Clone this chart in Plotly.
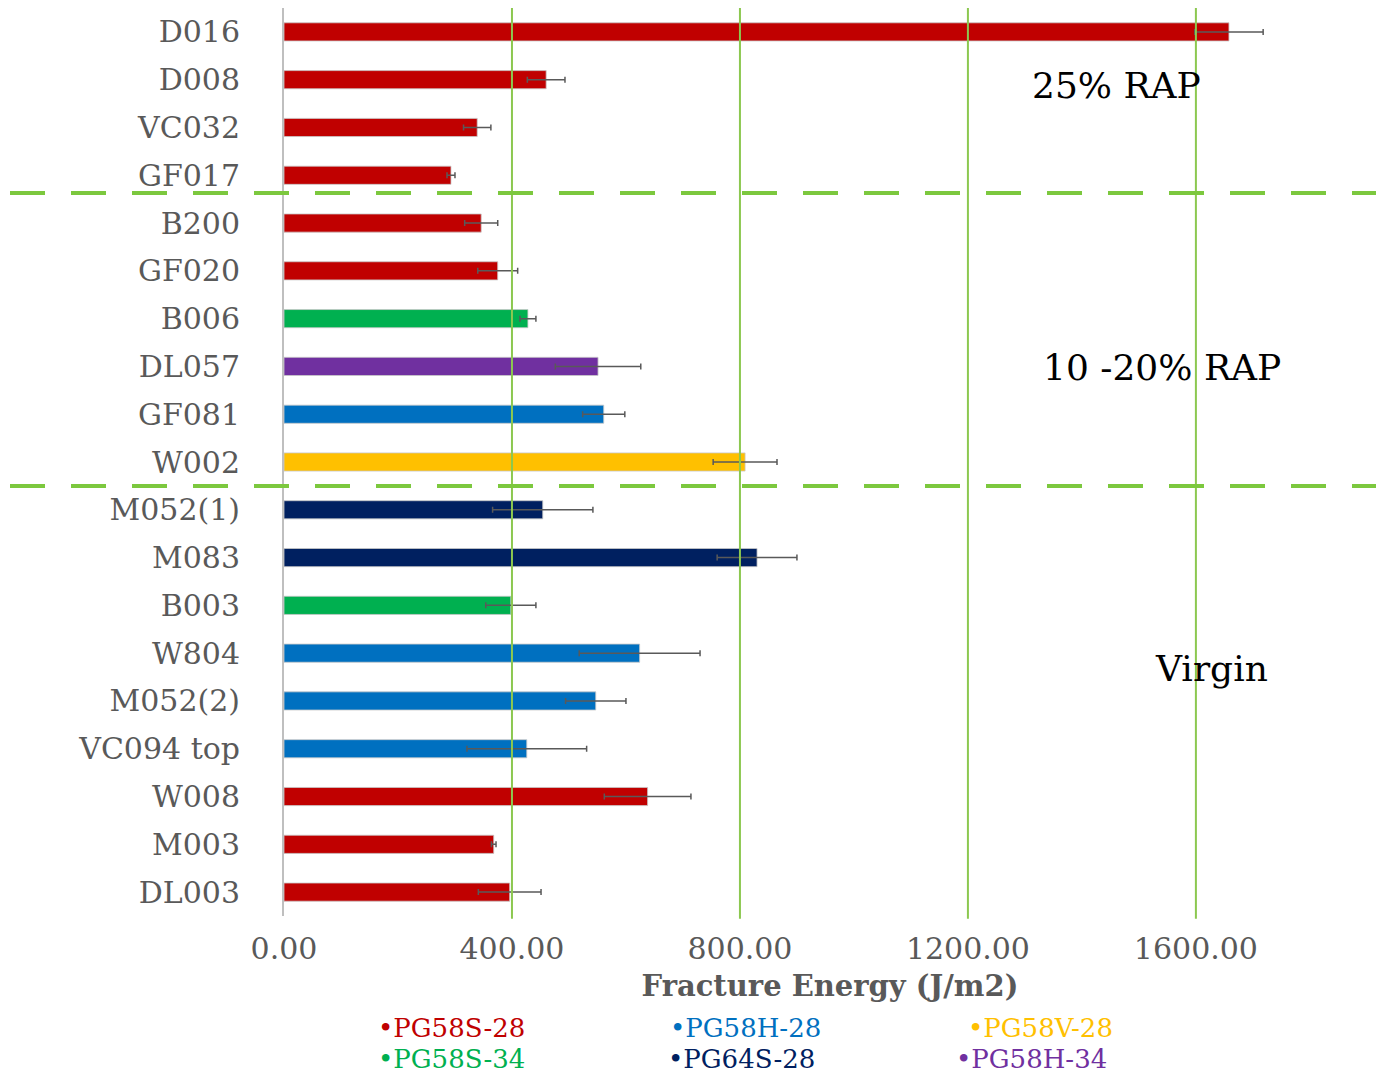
import plotly.graph_objects as go

# Fracture energy per mix, grouped top-to-bottom: 25% RAP, 10-20% RAP, Virgin
samples = ["D016", "D008", "VC032", "GF017",
           "B200", "GF020", "B006", "DL057", "GF081", "W002",
           "M052(1)", "M083", "B003", "W804", "M052(2)", "VC094 top",
           "W008", "M003", "DL003"]
energy = [1658, 460, 339, 293,
          346, 375, 428, 551, 561, 809,
          454, 830, 398, 624, 547, 426,
          638, 368, 396]
energy_err = [60, 33, 24, 7,
              29, 35, 14, 75, 37, 56,
              88, 70, 44, 106, 53, 105,
              76, 4, 55]
binder = ["PG58S-28", "PG58S-28", "PG58S-28", "PG58S-28",
          "PG58S-28", "PG58S-28", "PG58S-34", "PG58H-34", "PG58H-28", "PG58V-28",
          "PG64S-28", "PG64S-28", "PG58S-34", "PG58H-28", "PG58H-28", "PG58H-28",
          "PG58S-28", "PG58S-28", "PG58S-28"]

binder_order = ["PG58S-28", "PG58H-28", "PG58V-28",
                "PG58S-34", "PG64S-28", "PG58H-34"]
binder_colors = {
    "PG58S-28": "#C00000",
    "PG58H-28": "#0070C0",
    "PG58V-28": "#FFC000",
    "PG58S-34": "#00B050",
    "PG64S-28": "#002060",
    "PG58H-34": "#7030A0",
}

group_labels = ["25% RAP", "10 -20% RAP", "Virgin"]
# boundaries between groups, in category units
group_breaks = [3.37, 9.5]

x_ticks = [0, 400, 800, 1200, 1600]
x_max = 1916

W, H = 1376, 1076
L, R, T, B = 284, 0, 8, 160
PW, PH = W - L - R, H - T - B


def px_x(p):
    return (p - L) / PW


def px_y(p):
    return (H - B - p) / PH


SERIF = "DejaVu Serif"
GREY = "#595959"
GRID = "#8CC850"
DASH_GREEN = "#7CC83E"

fig = go.Figure()
fig.add_trace(go.Bar(
    y=samples,
    x=energy,
    orientation="h",
    width=0.38,
    marker=dict(color=[binder_colors[b] for b in binder],
                line=dict(color="rgba(200,200,200,0.8)", width=1)),
    error_x=dict(type="data", array=energy_err, symmetric=True,
                 color=GREY, thickness=1.5, width=3),
    showlegend=False,
    hoverinfo="x+y",
))

shapes = []
# vertical gridlines, drawn over the bars
for v in x_ticks[1:]:
    shapes.append(dict(type="line", xref="x", yref="paper",
                       x0=v, x1=v, y0=-0.003, y1=1,
                       line=dict(color=GRID, width=2), layer="above"))
# dashed separators between RAP groups
for yb in group_breaks:
    shapes.append(dict(type="line", xref="paper", yref="y",
                       x0=px_x(10), x1=1.0, y0=yb, y1=yb,
                       line=dict(color=DASH_GREEN, width=4, dash="35px,26px"),
                       layer="above"))

annotations = []
group_pos = [(1116, 85), (1162, 367), (1211, 668)]
for text, (gx, gy) in zip(group_labels, group_pos):
    annotations.append(dict(text=text, xref="paper", yref="paper",
                            x=px_x(gx), y=px_y(gy), showarrow=False,
                            xanchor="center", yanchor="middle",
                            font=dict(family=SERIF, size=36, color="black")))

# legend as coloured text, two rows of three
legend_pos = [(451, 1028), (745, 1028), (1040, 1028),
              (451, 1059), (741, 1059), (1031, 1059)]
for name, (lx, ly) in zip(binder_order, legend_pos):
    annotations.append(dict(text="\u2022" + name, xref="paper", yref="paper",
                            x=px_x(lx), y=px_y(ly), showarrow=False,
                            xanchor="center", yanchor="middle",
                            font=dict(family=SERIF, size=26,
                                      color=binder_colors[name])))

fig.update_layout(
    width=W, height=H,
    margin=dict(l=L, r=R, t=T, b=B, pad=0),
    paper_bgcolor="white",
    plot_bgcolor="white",
    bargap=0.62,
    shapes=shapes,
    annotations=annotations,
    xaxis=dict(
        range=[0, x_max],
        tickvals=x_ticks,
        ticktext=[f"{v:.2f}" for v in x_ticks],
        showgrid=False,
        zeroline=False,
        showline=False,
        ticks="",
        ticklabelstandoff=12,
        tickfont=dict(family=SERIF, size=30, color=GREY),
        title=dict(text="<b>Fracture Energy (J/m2)</b>", standoff=10,
                   font=dict(family=SERIF, size=29, color=GREY)),
        fixedrange=True,
    ),
    yaxis=dict(
        categoryorder="array",
        categoryarray=samples,
        autorange="reversed",
        showgrid=False,
        zeroline=False,
        showline=True,
        linecolor="#BFBFBF",
        linewidth=2,
        ticks="",
        ticklabelstandoff=36,
        tickfont=dict(family=SERIF, size=30, color=GREY),
        fixedrange=True,
    ),
)

fig.write_html("out.html")
